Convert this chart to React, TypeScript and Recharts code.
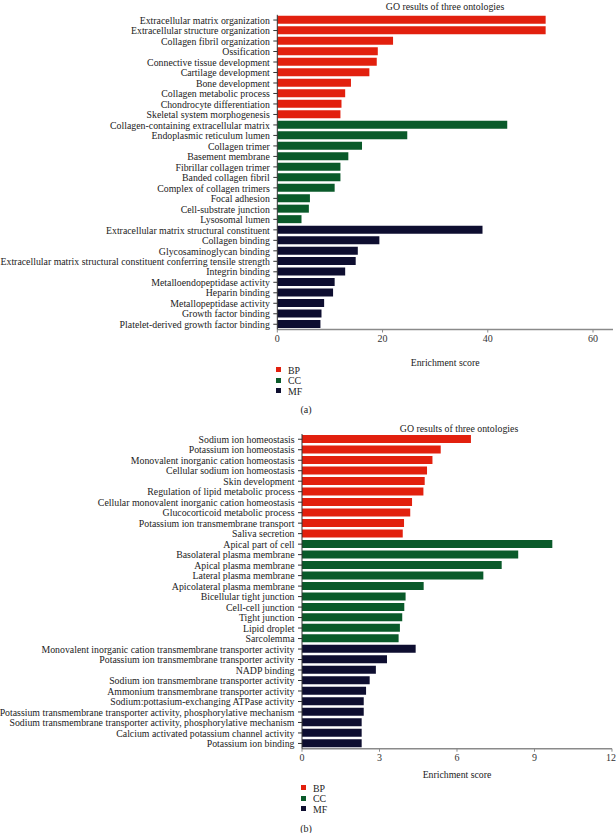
import React from 'react';
import { BarChart, Bar, XAxis, YAxis, Legend, Label } from 'recharts';

const FONT = '"Liberation Serif", "Times New Roman", serif';
const FS = 10.8;
const SX = 0.91;

const ontologyNames = ['BP', 'CC', 'MF'];
const ontologyColors = ['#e2200e', '#0a5a2a', '#0e0e30'];

// ---- Chart (a) ----
const bpTermsA = [
  'Extracellular matrix organization',
  'Extracellular structure organization',
  'Collagen fibril organization',
  'Ossification',
  'Connective tissue development',
  'Cartilage development',
  'Bone development',
  'Collagen metabolic process',
  'Chondrocyte differentiation',
  'Skeletal system morphogenesis',
];
const bpScoresA = [51.0, 51.0, 22.0, 19.1, 18.9, 17.5, 14.0, 12.9, 12.2, 12.0];

const ccTermsA = [
  'Collagen-containing extracellular matrix',
  'Endoplasmic reticulum lumen',
  'Collagen trimer',
  'Basement membrane',
  'Fibrillar collagen trimer',
  'Banded collagen fibril',
  'Complex of collagen trimers',
  'Focal adhesion',
  'Cell-substrate junction',
  'Lysosomal lumen',
];
const ccScoresA = [43.7, 24.7, 16.1, 13.5, 12.0, 12.0, 10.9, 6.2, 6.0, 4.6];

const mfTermsA = [
  'Extracellular matrix structural constituent',
  'Collagen binding',
  'Glycosaminoglycan binding',
  'Extracellular matrix structural constituent conferring tensile strength',
  'Integrin binding',
  'Metalloendopeptidase activity',
  'Heparin binding',
  'Metallopeptidase activity',
  'Growth factor binding',
  'Platelet-derived growth factor binding',
];
const mfScoresA = [39.0, 19.4, 15.3, 14.9, 12.9, 10.9, 10.6, 8.9, 8.4, 8.2];

const ticksA = [0, 20, 40, 60];

// ---- Chart (b) ----
const bpTermsB = [
  'Sodium ion homeostasis',
  'Potassium ion homeostasis',
  'Monovalent inorganic cation homeostasis',
  'Cellular sodium ion homeostasis',
  'Skin development',
  'Regulation of lipid metabolic process',
  'Cellular monovalent inorganic cation homeostasis',
  'Glucocorticoid metabolic process',
  'Potassium ion transmembrane transport',
  'Saliva secretion',
];
const bpScoresB = [6.54, 5.37, 5.05, 4.84, 4.75, 4.7, 4.26, 4.19, 3.95, 3.9];

const ccTermsB = [
  'Apical part of cell',
  'Basolateral plasma membrane',
  'Apical plasma membrane',
  'Lateral plasma membrane',
  'Apicolateral plasma membrane',
  'Bicellular tight junction',
  'Cell-cell junction',
  'Tight junction',
  'Lipid droplet',
  'Sarcolemma',
];
const ccScoresB = [9.69, 8.37, 7.73, 7.02, 4.71, 4.01, 3.96, 3.88, 3.79, 3.74];

const mfTermsB = [
  'Monovalent inorganic cation transmembrane transporter activity',
  'Potassium ion transmembrane transporter activity',
  'NADP binding',
  'Sodium ion transmembrane transporter activity',
  'Ammonium transmembrane transporter activity',
  'Sodium:pottasium-exchanging ATPase activity',
  'Potassium transmembrane transporter activity, phosphorylative mechanism',
  'Sodium transmembrane transporter activity, phosphorylative mechanism',
  'Calcium activated potassium channel activity',
  'Potassium ion binding',
];
const mfScoresB = [4.4, 3.29, 2.86, 2.62, 2.48, 2.39, 2.39, 2.31, 2.31, 2.31];

const ticksB = [0, 3, 6, 9, 12];

const buildRows = (groups: { terms: string[]; scores: number[] }[]) => {
  const rows: any[] = [];
  groups.forEach((g, gi) => {
    g.terms.forEach((t, ti) => {
      rows.push({ term: t, [ontologyNames[gi]]: g.scores[ti] });
    });
  });
  return rows;
};

const rowsA = buildRows([
  { terms: bpTermsA, scores: bpScoresA },
  { terms: ccTermsA, scores: ccScoresA },
  { terms: mfTermsA, scores: mfScoresA },
]);
const rowsB = buildRows([
  { terms: bpTermsB, scores: bpScoresB },
  { terms: ccTermsB, scores: ccScoresB },
  { terms: mfTermsB, scores: mfScoresB },
]);

const CatTick = (props: any) => {
  const { x, y, payload } = props;
  return (
    <g transform={`translate(${x - 2.5},${y})`}>
      <text
        transform={`scale(${SX},1)`}
        textAnchor="end"
        dy="0.34em"
        fontFamily={FONT}
        fontSize={FS}
        fill="#222"
      >
        {payload.value}
      </text>
    </g>
  );
};

const LegendBox = (props: any) => {
  const { payload } = props;
  return (
    <div style={{ fontFamily: FONT, fontSize: FS, color: '#222' }}>
      {(payload || []).map((p: any) => (
        <div
          key={p.value}
          style={{ display: 'flex', alignItems: 'center', height: 10.5, lineHeight: '10.5px' }}
        >
          <span
            style={{ width: 5, height: 5, background: p.color, display: 'inline-block', marginRight: 7 }}
          />
          <span
            style={{ display: 'inline-block', transform: `scaleX(${SX})`, transformOrigin: 'left center' }}
          >
            {p.value}
          </span>
        </div>
      ))}
    </div>
  );
};

function GoChart(props: {
  rows: any[];
  domainMax: number;
  ticks: number[];
  height: number;
  marginTop: number;
  marginRight: number;
  yWidth: number;
  legendTop: number;
  legendLeft: number;
  labelOffset: number;
}) {
  const { rows, domainMax, ticks, height, marginTop, marginRight, yWidth, legendTop, legendLeft, labelOffset } = props;
  return (
    <BarChart
      width={616}
      height={height}
      data={rows}
      layout="vertical"
      margin={{ top: marginTop, right: marginRight, bottom: 0, left: 0 }}
      barCategoryGap="10%"
    >
      <XAxis
        type="number"
        domain={[0, domainMax]}
        ticks={ticks}
        height={80}
        axisLine={{ stroke: '#8a8a8a', strokeWidth: 1.5 }}
        tickLine={{ stroke: '#8a8a8a' }}
        tickSize={3}
        tick={{ fontFamily: FONT, fontSize: 10, fill: '#333' }}
      >
        <Label
          value="Enrichment score"
          position="insideTop"
          offset={labelOffset}
          fontFamily={FONT}
          fontSize={9.8}
          fill="#222"
        />
      </XAxis>
      <YAxis
        type="category"
        dataKey="term"
        width={yWidth}
        interval={0}
        tickSize={4}
        tickMargin={1}
        axisLine={{ stroke: '#333' }}
        tickLine={{ stroke: '#333' }}
        tick={<CatTick />}
      />
      {ontologyNames.map((n, i) => (
        <Bar
          key={n}
          dataKey={n}
          name={n}
          stackId="go"
          fill={ontologyColors[i]}
          isAnimationActive={false}
        />
      ))}
      <Legend
        layout="vertical"
        align="center"
        verticalAlign="middle"
        wrapperStyle={{ left: legendLeft, top: legendTop, width: 60, height: 32 }}
        content={<LegendBox />}
      />
    </BarChart>
  );
}

const textStyle = (left: number, top: number, size: number): React.CSSProperties => ({
  position: 'absolute',
  left,
  top,
  transform: `translate(-50%, -50%) scaleX(${SX})`,
  fontFamily: FONT,
  fontSize: size,
  lineHeight: 1,
  color: '#222',
  whiteSpace: 'nowrap',
});

export default function App() {
  return (
    <div style={{ position: 'absolute', left: 0, top: 0, width: 616, height: 833, background: '#fff', overflow: 'hidden' }}>
      <div style={{ position: 'absolute', left: 0, top: 0 }}>
        <GoChart
          rows={rowsA}
          domainMax={63.8}
          ticks={ticksA}
          height={409.5}
          marginTop={14.8}
          marginRight={3}
          yWidth={277.3}
          legendTop={364.7}
          legendLeft={276}
          labelOffset={30}
        />
      </div>
      <div style={{ position: 'absolute', left: 0, top: 415 }}>
        <GoChart
          rows={rowsB}
          domainMax={12}
          ticks={ticksB}
          height={413.7}
          marginTop={19}
          marginRight={4}
          yWidth={302}
          legendTop={367.5}
          legendLeft={301}
          labelOffset={22}
        />
      </div>
      <div style={textStyle(445, 5.5, FS)}>GO results of three ontologies</div>
      <div style={textStyle(459, 427.5, FS)}>GO results of three ontologies</div>
      <div style={textStyle(306, 408.5, 11)}>(a)</div>
      <div style={textStyle(306, 828, 11)}>(b)</div>
    </div>
  );
}
